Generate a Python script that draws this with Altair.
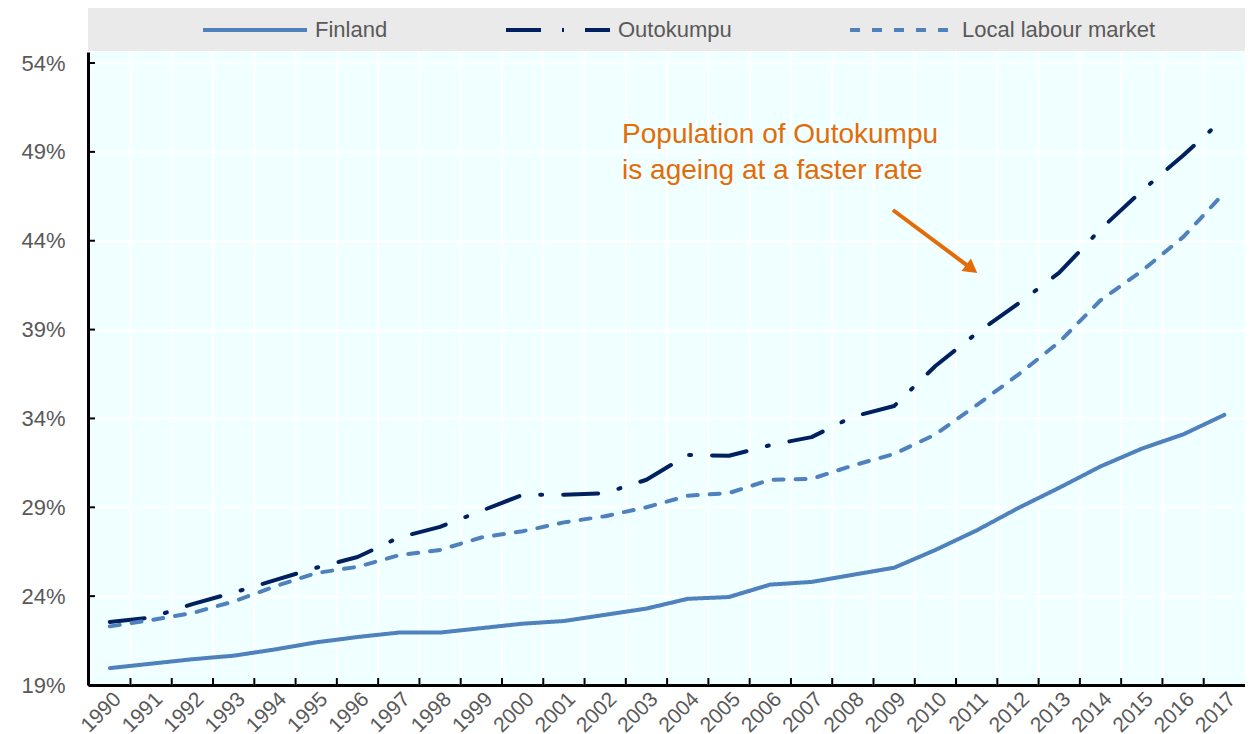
import altair as alt
import pandas as pd

# ---------------- data ----------------
years = list(range(1990, 2018))
finland = [19.95, 20.2, 20.45, 20.65, 21.0, 21.4, 21.7, 21.95, 21.95, 22.2,
           22.45, 22.6, 22.95, 23.3, 23.85, 23.95, 24.65, 24.8, 25.2, 25.6,
           26.6, 27.7, 28.95, 30.1, 31.3, 32.3, 33.1, 34.2]
outokumpu = [22.55, 22.8, 23.55, 24.2, 24.9, 25.6, 26.2, 27.3, 27.9, 28.8,
             29.7, 29.7, 29.8, 30.55, 31.95, 31.9, 32.5, 32.95, 34.1, 34.7,
             36.95, 38.8, 40.45, 42.2, 44.65, 46.8, 48.8, 50.9]
local_market = [22.3, 22.65, 23.05, 23.7, 24.55, 25.3, 25.65, 26.3, 26.6, 27.3,
                27.65, 28.15, 28.5, 29.0, 29.65, 29.8, 30.55, 30.6, 31.35, 32.0,
                33.1, 34.75, 36.45, 38.3, 40.65, 42.3, 44.2, 46.7]
series_names = ["Finland", "Outokumpu", "Local labour market"]
y_ticks = [19, 24, 29, 34, 39, 44, 49, 54]

annotation_lines = ["Population of Outokumpu", "is ageing at a faster rate"]
annotation_x = [2002.41]
annotation_y = [49.48]
arrow_x = [2008.97]
arrow_y = [45.73]
arrow_x2 = [2010.88]
arrow_y2 = [42.42]

# ---------------- styling ----------------
W, H = 1157, 633
X_DOMAIN = [1989.471, 2017.5]
Y_DOMAIN = [19, 54.62]
FONT = "Liberation Sans"
TXT = "#595959"
BLUE = "#4F81BD"
NAVY = "#002060"
ORANGE = "#E36C09"
colors = [BLUE, NAVY, BLUE]
dashes = [[1, 0], [35, 21, 2, 21], [10, 12]]

rows = []
for name, vals in zip(series_names, [finland, outokumpu, local_market]):
    for yr, v in zip(years, vals):
        rows.append({"year": yr, "value": v, "series": name})
df = pd.DataFrame(rows)

xs = alt.Scale(domain=X_DOMAIN, nice=False, zero=False)
ys = alt.Scale(domain=Y_DOMAIN, nice=False, zero=False)

x_axis = alt.Axis(
    values=years, format="d", labelAngle=-45, ticks=False, tickSize=0, grid=False,
    domainColor="black", domainWidth=3, labelFont=FONT, labelFontSize=21,
    labelColor=TXT, labelPadding=3, title=None, labelFlush=False, labelOverlap=False)
y_axis = alt.Axis(
    values=y_ticks, labelExpr="datum.value + '%'", ticks=False, tickSize=0,
    grid=True, gridColor="white", gridWidth=2, domainColor="black", domainWidth=3,
    labelFont=FONT, labelFontSize=22, labelColor=TXT, labelPadding=23, title=None,
    labelFlush=False)

legend = alt.Legend(
    orient="none", legendX=113, legendY=-76, direction="horizontal", title=None,
    symbolType="stroke", symbolSize=10816, symbolStrokeWidth=4,
    labelFont=FONT, labelFontSize=22, labelColor=TXT, labelOffset=6, labelLimit=0,
    columnPadding=110, padding=0,
)

# gray legend band
band = alt.Chart(pd.DataFrame({"k": [0]})).mark_rect(color="#eaeaea").encode(
    x=alt.value(0), x2=alt.value(W + 10), y=alt.value(-45), y2=alt.value(-1)
)

# vertical grid lines and inside ticks at category boundaries
bound_df = pd.DataFrame({"year": years[:-1]})
vgrid = alt.Chart(bound_df).transform_calculate(b="datum.year + 0.5").mark_rule(
    color="white", strokeWidth=2
).encode(x=alt.X("b:Q", scale=xs, axis=x_axis))

xticks = alt.Chart(bound_df).transform_calculate(b="datum.year + 0.5").mark_rule(
    color="black", strokeWidth=2
).encode(x=alt.X("b:Q", scale=xs, axis=x_axis), y=alt.value(H), y2=alt.value(H - 7))

yticks = alt.Chart(pd.DataFrame({"v": y_ticks})).mark_rule(
    color="black", strokeWidth=2
).encode(y=alt.Y("v:Q", scale=ys, axis=y_axis), x=alt.value(0), x2=alt.value(7))

lines = alt.Chart(df).mark_line(strokeWidth=4, strokeCap="round", strokeJoin="round").encode(
    x=alt.X("year:Q", scale=xs, axis=x_axis),
    y=alt.Y("value:Q", scale=ys, axis=y_axis),
    color=alt.Color("series:N", scale=alt.Scale(domain=series_names, range=colors), legend=legend),
    strokeDash=alt.StrokeDash("series:N", scale=alt.Scale(domain=series_names, range=dashes), legend=legend),
    order=alt.Order("year:Q"),
)

ann = alt.Chart(pd.DataFrame({"x": annotation_x, "y": annotation_y,
                              "t": ["\n".join(annotation_lines)]})).mark_text(
    align="left", baseline="alphabetic", lineBreak="\n", fontSize=28, lineHeight=36,
    color=ORANGE, font=FONT
).encode(x=alt.X("x:Q", scale=xs, axis=x_axis), y=alt.Y("y:Q", scale=ys, axis=y_axis), text="t:N")

arrow_df = pd.DataFrame({"x": arrow_x, "y": arrow_y, "x2": arrow_x2, "y2": arrow_y2})
arrow_line = alt.Chart(arrow_df).mark_rule(color=ORANGE, strokeWidth=4).encode(
    x=alt.X("x:Q", scale=xs, axis=x_axis), y=alt.Y("y:Q", scale=ys, axis=y_axis),
    x2="x2:Q", y2="y2:Q")
arrow_head = alt.Chart(arrow_df).mark_point(
    shape="triangle-up", filled=True, size=250, angle=126.5, color=ORANGE, opacity=1
).encode(x=alt.X("x2:Q", scale=xs, axis=x_axis), y=alt.Y("y2:Q", scale=ys, axis=y_axis))

chart = alt.layer(vgrid, lines, xticks, yticks, ann, arrow_line, arrow_head, band).properties(
    width=W, height=H,
    autosize=alt.AutoSizeParams(type="none"),
    padding={"left": 80, "top": 44, "right": 0, "bottom": 52},
).configure_view(fill="#f0ffff", strokeWidth=0)

chart.save("out.html", embed_options={"renderer": "svg", "actions": False})
